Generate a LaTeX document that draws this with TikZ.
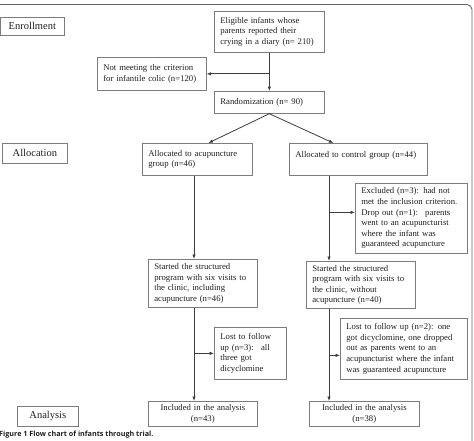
\documentclass[tikz,border=0pt]{standalone}
\usepackage{fontspec}
\setmainfont{Liberation Serif}
\newfontfamily\capfont{Open Sans}
\usetikzlibrary{arrows.meta}
\definecolor{boxgray}{HTML}{7C7C7C}
\definecolor{linegray}{HTML}{3C3C3C}
\definecolor{framegray}{HTML}{6A6A6A}
\hyphenpenalty=10000
\exhyphenpenalty=10000

\begin{document}
\begin{tikzpicture}[
        x=1pt, y=-1pt,
        every node/.style={
            font=\fontsize{8.7}{10.6}\selectfont, text=black!88
        },
        box/.style={
            draw=boxgray, line width=0.7pt, anchor=north west,
            align=left, inner xsep=6pt, inner ysep=0pt
        },
        stage/.style={
            draw=boxgray, line width=0.7pt, anchor=north west,
            align=center, inner sep=0pt, font=\fontsize{10.5}{12}\selectfont
        },
        arr/.style={
            draw=linegray, line width=0.8pt, -{Latex[length=4.5pt,width=3.6pt]}
        }
    ]
        \useasboundingbox (0,0) rectangle (474,440);

        % FRAME
        \draw[framegray, line width=0.9pt, rounded corners=5pt] (-3,4.5) -- (472,4.5) -- (472,445);

        % STAGES
        \node[stage, minimum width=64pt, minimum height=18pt] (enroll) at (0,17) {Enrollment};
        \node[stage, minimum width=65pt, minimum height=20pt] (alloc) at (2,143) {Allocation};
        \node[stage, minimum width=61pt, minimum height=20pt] (analysis) at (17,406) {Analysis};

        % ENROLLMENT
        \node[box, text width=98pt, minimum height=41pt] (elig) at (214,11)
            {Eligible infants whose\\parents reported their\\crying in a diary (n= 210)};
        \node[box, text width=97pt, minimum height=33pt] (nomeet) at (97,57)
            {Not meeting the criterion\\for infantile colic (n=120)};
        \node[box, text width=98pt, minimum height=22pt] (rand) at (214,91)
            {Randomization (n= 90)};

        % ALLOCATION
        \node[box, text width=98pt, minimum height=32pt] (acalloc) at (142,143)
            {Allocated to acupuncture\\group (n=46)};
        \node[box, text width=126pt, minimum height=32pt] (ctalloc) at (289,143)
            {Allocated to control group (n=44)\\\mbox{}};
        \node[box, text width=100pt, minimum height=70pt] (excl) at (355,183)
            {Excluded (n=3): had not\\met the inclusion criterion.\\Drop out (n=1): \ parents\\went to an acupuncturist\\where the infant was\\guaranteed acupuncture};
        \node[box, text width=97pt, minimum height=48pt] (acstart) at (148,259)
            {Started the structured\\program with six visits to\\the clinic, including\\acupuncture (n=46)};
        \node[box, text width=97pt, minimum height=47pt] (ctstart) at (306,261)
            {Started the structured\\program with six visits to\\the clinic, without\\acupuncture (n=40)};

        % ANALYSIS
        \node[box, text width=60pt, minimum height=52pt] (aclost) at (214,327)
            {Lost to follow\\up (n=3): \ all\\three got\\dicyclomine};
        \node[box, text width=115pt, minimum height=61pt] (ctlost) at (340,318)
            {Lost to follow up (n=2): one\\got dicyclomine, one dropped\\out as parents went to an\\acupuncturist where the infant\\was guaranteed acupuncture};
        \node[box, align=center, text width=97pt, minimum height=25pt] (acincl) at (148,401)
            {Included in the analysis\\(n=43)};
        \node[box, align=center, text width=98pt, minimum height=25pt] (ctincl) at (309,401)
            {Included in the analysis\\(n=38)};

        % CAPTION
        \node[anchor=west, inner sep=0pt, font=\capfont\fontsize{7.2}{8}\selectfont\bfseries] (cap) at (-1,435)
            {Figure 1 Flow chart of infants through trial.};

        % ARROWS
        \coordinate (acx) at (194,0);
        \coordinate (ctx) at (329,0);
        \draw[arr] (elig.south) -- (rand.north);
        \draw[arr] (elig.south |- nomeet.east) -- (nomeet.east);
        \draw[arr] (rand.south) -- ([xshift=11pt]acalloc.north);
        \draw[arr] (rand.south) -- ([xshift=-25pt]ctalloc.north);

        \draw[arr] (acalloc.south -| acx) -- (acstart.north -| acx);
        \draw[arr] (acstart.south -| acx) -- (acincl.north -| acx);
        \draw[arr] (aclost.west -| acx) -- (aclost.west);

        \draw[arr] (ctalloc.south -| ctx) -- (ctstart.north -| ctx);
        \draw[arr] (ctstart.south -| ctx) -- (ctincl.north -| ctx);
        \draw[arr] ([yshift=6pt]excl.west -| ctx) -- ([yshift=6pt]excl.west);
        \draw[arr] ([yshift=-6.5pt]ctlost.west -| ctx) -- ([yshift=-6.5pt]ctlost.west);
    \end{tikzpicture}
\end{document}
